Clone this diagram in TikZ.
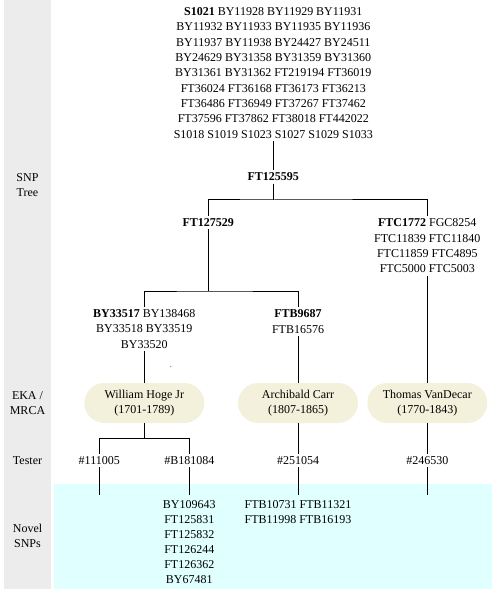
\documentclass[tikz,border=0pt]{standalone}
\usepackage{fontspec}
\setmainfont{Liberation Serif}
\definecolor{colgrey}{RGB}{236,236,236}
\definecolor{novelcyan}{RGB}{224,255,255}
\definecolor{pillfill}{RGB}{243,241,219}
\begin{document}
\begin{tikzpicture}[x=1pt,y=-1pt,
  txt/.style={font=\fontsize{12}{15.3}\selectfont, align=center, inner sep=2.5pt},
  blk/.style={txt, anchor=north},
  pill/.style={txt, rectangle, rounded corners=20pt, fill=pillfill, minimum width=120pt, minimum height=40pt},
  lbl/.style={txt},
  link/.style={line width=1pt}]
\useasboundingbox (0,0) rectangle (496,593);
\fill[colgrey] (4,0) rectangle (51,589);
\fill[novelcyan] (54,484) rectangle (492,589);

% row labels
\node[lbl] (lsnp) at (27.5,185.2) {SNP\\Tree};
\node[lbl] (leka) at (27.5,403.3) {EKA /\\MRCA};
\node[lbl] (ltest) at (27.5,460.7) {Tester};
\node[lbl] (lnov) at (27.5,536.2) {Novel\\SNPs};

% SNP tree
\node[blk] (root) at (273.3,5) {\textbf{S1021} BY11928 BY11929 BY11931\\
BY11932 BY11933 BY11935 BY11936\\
BY11937 BY11938 BY24427 BY24511\\
BY24629 BY31358 BY31359 BY31360\\
BY31361 BY31362 FT219194 FT36019\\
FT36024 FT36168 FT36173 FT36213\\
FT36486 FT36949 FT37267 FT37462\\
FT37596 FT37862 FT38018 FT442022\\
S1018 S1019 S1023 S1027 S1029 S1033};
\node[txt] (n1) at (273.3,177) {\textbf{FT125595}};
\node[txt] (n2) at (208.3,222.7) {\textbf{FT127529}};
\node[blk] (n3) at (427.3,216.2) {\textbf{FTC1772} FGC8254\\FTC11839 FTC11840\\FTC11859 FTC4895\\FTC5000 FTC5003};
\node[blk] (n4) at (144.3,306.8) {\textbf{BY33517} BY138468\\BY33518 BY33519\\BY33520};
\node[blk] (n5) at (298,307.3) {\textbf{FTB9687}\\FTB16576};

% EKA / MRCA
\node[pill] (p1) at (144.3,403) {William Hoge Jr\\(1701-1789)};
\node[pill] (p2) at (298,403) {Archibald Carr\\(1807-1865)};
\node[pill] (p3) at (427.3,403) {Thomas VanDecar\\(1770-1843)};

% testers
\node[txt] (t1) at (99.3,460.7) {\#111005};
\node[txt] (t2) at (189.3,460.7) {\#B181084};
\node[txt] (t3) at (298,460.7) {\#251054};
\node[txt] (t4) at (427.3,460.7) {\#246530};

% novel SNPs
\node[blk, font=\fontsize{12}{15}\selectfont] (v1) at (189.3,497.5) {BY109643\\FT125831\\FT125832\\FT126244\\FT126362\\BY67481};
\node[blk] (v2) at (298,497.5) {FTB10731 FTB11321\\FTB11998 FTB16193};

% junctions and free ends
\coordinate (j1) at (273.3,200);
\coordinate (j2) at (208.3,291);
\coordinate (j3) at (144.3,438.3);
\coordinate (e1) at (99.3,494.5);
\coordinate (e2) at (189.3,494.5);
\coordinate (e3) at (298,494.5);
\coordinate (e4) at (427.3,494.5);

\draw[link] (root.south) -- (n1.north);
\draw[link] (n1.south) -- (j1);
\draw[link] (n2.north) |- (j1) -| (n3.north);
\draw[link] (n2.south) -- (j2);
\draw[link] (n4.north) |- (j2) -| (n5.north);
\draw[link] (n4.south) -- (p1.north);
\draw[link] (n5.south) -- (p2.north);
\draw[link] (n3.south) -- (p3.north);
\draw[link] (p1.south) -- (j3);
\draw[link] (t1.north) |- (j3) -| (t2.north);
\draw[link] (p2.south) -- (t3.north);
\draw[link] (p3.south) -- (t4.north);
\draw[link] (t1.south) -- (e1);
\draw[link] (t2.south) -- (e2);
\draw[link] (t3.south) -- (e3);
\draw[link] (t4.south) -- (e4);

\fill[black!70] (170.7,366.7) circle (0.5pt);
\end{tikzpicture}
\end{document}
